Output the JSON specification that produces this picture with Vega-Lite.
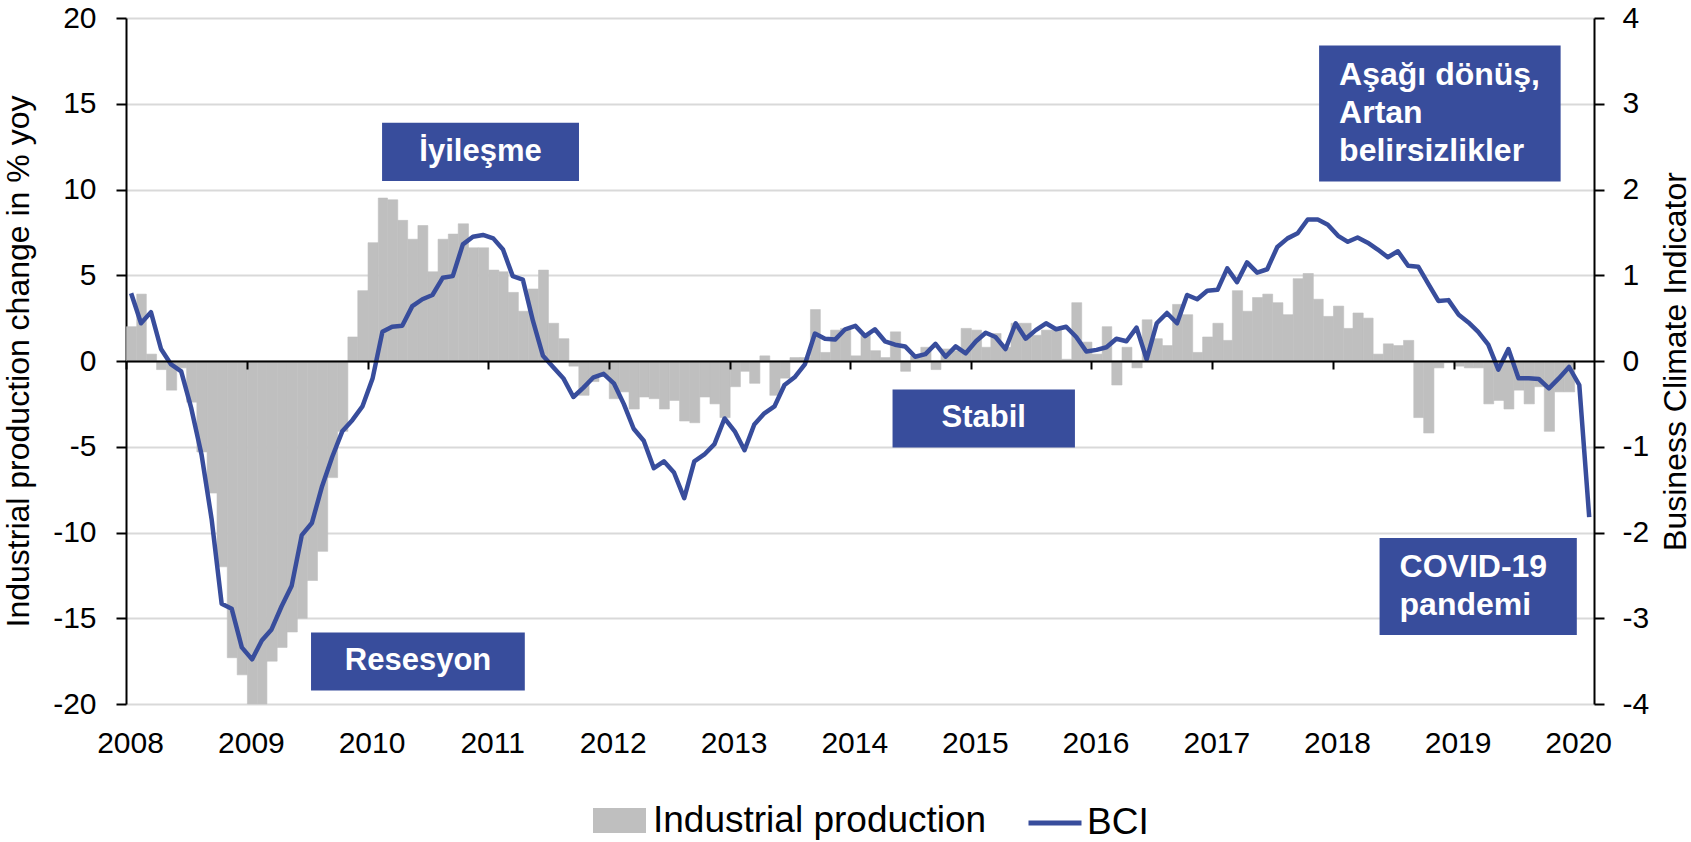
{
  "$schema": "https://vega.github.io/schema/vega-lite/v6.json",
  "width": 1468,
  "height": 686,
  "autosize": {"type": "none"},
  "padding": {"left": 126, "top": 18, "right": 97, "bottom": 138},
  "background": "white",
  "config": {
    "font": "Liberation Sans",
    "view": {"stroke": null},
    "bar": {"binSpacing": 0},
    "axis": {"labelFont": "Liberation Sans", "titleFont": "Liberation Sans", "labelColor": "black", "titleColor": "black"}
  },
  "data": {"values": [
    {"date": "2008-01", "ip": 2.0, "bci": 0.79}, {"date": "2008-02", "ip": 3.9, "bci": 0.44}, {"date": "2008-03", "ip": 0.4, "bci": 0.57}, {"date": "2008-04", "ip": -0.5, "bci": 0.14}, {"date": "2008-05", "ip": -1.7, "bci": -0.04}, {"date": "2008-06", "ip": -0.4, "bci": -0.12}, {"date": "2008-07", "ip": -2.4, "bci": -0.55}, {"date": "2008-08", "ip": -5.3, "bci": -1.09}, {"date": "2008-09", "ip": -7.7, "bci": -1.84}, {"date": "2008-10", "ip": -12.0, "bci": -2.83}, {"date": "2008-11", "ip": -17.3, "bci": -2.89}, {"date": "2008-12", "ip": -18.3, "bci": -3.34},
    {"date": "2009-01", "ip": -20.0, "bci": -3.48}, {"date": "2009-02", "ip": -20.0, "bci": -3.26}, {"date": "2009-03", "ip": -17.5, "bci": -3.13}, {"date": "2009-04", "ip": -16.7, "bci": -2.86}, {"date": "2009-05", "ip": -15.8, "bci": -2.62}, {"date": "2009-06", "ip": -15.0, "bci": -2.03}, {"date": "2009-07", "ip": -12.8, "bci": -1.89}, {"date": "2009-08", "ip": -11.1, "bci": -1.46}, {"date": "2009-09", "ip": -6.8, "bci": -1.12}, {"date": "2009-10", "ip": -4.1, "bci": -0.82}, {"date": "2009-11", "ip": 1.4, "bci": -0.69}, {"date": "2009-12", "ip": 4.1, "bci": -0.53},
    {"date": "2010-01", "ip": 6.9, "bci": -0.2}, {"date": "2010-02", "ip": 9.5, "bci": 0.34}, {"date": "2010-03", "ip": 9.4, "bci": 0.4}, {"date": "2010-04", "ip": 8.2, "bci": 0.41}, {"date": "2010-05", "ip": 7.1, "bci": 0.64}, {"date": "2010-06", "ip": 7.9, "bci": 0.72}, {"date": "2010-07", "ip": 5.2, "bci": 0.77}, {"date": "2010-08", "ip": 7.1, "bci": 0.97}, {"date": "2010-09", "ip": 7.4, "bci": 0.99}, {"date": "2010-10", "ip": 8.0, "bci": 1.36}, {"date": "2010-11", "ip": 6.6, "bci": 1.45}, {"date": "2010-12", "ip": 6.6, "bci": 1.47},
    {"date": "2011-01", "ip": 5.3, "bci": 1.43}, {"date": "2011-02", "ip": 5.2, "bci": 1.3}, {"date": "2011-03", "ip": 4.0, "bci": 0.99}, {"date": "2011-04", "ip": 2.9, "bci": 0.95}, {"date": "2011-05", "ip": 4.2, "bci": 0.47}, {"date": "2011-06", "ip": 5.3, "bci": 0.06}, {"date": "2011-07", "ip": 2.2, "bci": -0.07}, {"date": "2011-08", "ip": 1.3, "bci": -0.2}, {"date": "2011-09", "ip": -0.3, "bci": -0.42}, {"date": "2011-10", "ip": -2.0, "bci": -0.31}, {"date": "2011-11", "ip": -1.2, "bci": -0.19}, {"date": "2011-12", "ip": -0.9, "bci": -0.15},
    {"date": "2012-01", "ip": -2.2, "bci": -0.26}, {"date": "2012-02", "ip": -1.8, "bci": -0.5}, {"date": "2012-03", "ip": -2.8, "bci": -0.79}, {"date": "2012-04", "ip": -2.1, "bci": -0.93}, {"date": "2012-05", "ip": -2.2, "bci": -1.25}, {"date": "2012-06", "ip": -2.8, "bci": -1.17}, {"date": "2012-07", "ip": -2.3, "bci": -1.3}, {"date": "2012-08", "ip": -3.5, "bci": -1.6}, {"date": "2012-09", "ip": -3.6, "bci": -1.17}, {"date": "2012-10", "ip": -2.1, "bci": -1.09}, {"date": "2012-11", "ip": -2.5, "bci": -0.97}, {"date": "2012-12", "ip": -3.3, "bci": -0.67},
    {"date": "2013-01", "ip": -1.5, "bci": -0.82}, {"date": "2013-02", "ip": -0.6, "bci": -1.04}, {"date": "2013-03", "ip": -1.3, "bci": -0.74}, {"date": "2013-04", "ip": 0.3, "bci": -0.61}, {"date": "2013-05", "ip": -2.0, "bci": -0.53}, {"date": "2013-06", "ip": -1.0, "bci": -0.28}, {"date": "2013-07", "ip": 0.2, "bci": -0.19}, {"date": "2013-08", "ip": 0.2, "bci": -0.04}, {"date": "2013-09", "ip": 3.0, "bci": 0.32}, {"date": "2013-10", "ip": 0.5, "bci": 0.26}, {"date": "2013-11", "ip": 1.8, "bci": 0.25}, {"date": "2013-12", "ip": 1.9, "bci": 0.37},
    {"date": "2014-01", "ip": 0.3, "bci": 0.41}, {"date": "2014-02", "ip": 1.5, "bci": 0.29}, {"date": "2014-03", "ip": 0.6, "bci": 0.37}, {"date": "2014-04", "ip": 0.2, "bci": 0.23}, {"date": "2014-05", "ip": 1.7, "bci": 0.19}, {"date": "2014-06", "ip": -0.6, "bci": 0.17}, {"date": "2014-07", "ip": 0.3, "bci": 0.05}, {"date": "2014-08", "ip": 0.8, "bci": 0.08}, {"date": "2014-09", "ip": -0.5, "bci": 0.2}, {"date": "2014-10", "ip": 0.7, "bci": 0.05}, {"date": "2014-11", "ip": 0.6, "bci": 0.17}, {"date": "2014-12", "ip": 1.9, "bci": 0.09},
    {"date": "2015-01", "ip": 1.8, "bci": 0.23}, {"date": "2015-02", "ip": 0.8, "bci": 0.33}, {"date": "2015-03", "ip": 1.6, "bci": 0.28}, {"date": "2015-04", "ip": 0.8, "bci": 0.14}, {"date": "2015-05", "ip": 2.2, "bci": 0.44}, {"date": "2015-06", "ip": 2.2, "bci": 0.26}, {"date": "2015-07", "ip": 1.5, "bci": 0.36}, {"date": "2015-08", "ip": 1.8, "bci": 0.44}, {"date": "2015-09", "ip": 1.8, "bci": 0.37}, {"date": "2015-10", "ip": 0.1, "bci": 0.4}, {"date": "2015-11", "ip": 3.4, "bci": 0.28}, {"date": "2015-12", "ip": 1.1, "bci": 0.11},
    {"date": "2016-01", "ip": 0.4, "bci": 0.13}, {"date": "2016-02", "ip": 2.0, "bci": 0.16}, {"date": "2016-03", "ip": -1.4, "bci": 0.26}, {"date": "2016-04", "ip": 0.8, "bci": 0.23}, {"date": "2016-05", "ip": -0.4, "bci": 0.39}, {"date": "2016-06", "ip": 2.4, "bci": 0.02}, {"date": "2016-07", "ip": 1.3, "bci": 0.44}, {"date": "2016-08", "ip": 0.9, "bci": 0.56}, {"date": "2016-09", "ip": 3.3, "bci": 0.44}, {"date": "2016-10", "ip": 2.7, "bci": 0.77}, {"date": "2016-11", "ip": 0.5, "bci": 0.72}, {"date": "2016-12", "ip": 1.4, "bci": 0.82},
    {"date": "2017-01", "ip": 2.2, "bci": 0.83}, {"date": "2017-02", "ip": 1.2, "bci": 1.08}, {"date": "2017-03", "ip": 4.1, "bci": 0.92}, {"date": "2017-04", "ip": 2.9, "bci": 1.15}, {"date": "2017-05", "ip": 3.7, "bci": 1.03}, {"date": "2017-06", "ip": 3.9, "bci": 1.07}, {"date": "2017-07", "ip": 3.4, "bci": 1.33}, {"date": "2017-08", "ip": 2.7, "bci": 1.43}, {"date": "2017-09", "ip": 4.8, "bci": 1.49}, {"date": "2017-10", "ip": 5.1, "bci": 1.65}, {"date": "2017-11", "ip": 3.6, "bci": 1.65}, {"date": "2017-12", "ip": 2.6, "bci": 1.59},
    {"date": "2018-01", "ip": 3.2, "bci": 1.46}, {"date": "2018-02", "ip": 1.9, "bci": 1.39}, {"date": "2018-03", "ip": 2.8, "bci": 1.44}, {"date": "2018-04", "ip": 2.5, "bci": 1.38}, {"date": "2018-05", "ip": 0.4, "bci": 1.3}, {"date": "2018-06", "ip": 1.0, "bci": 1.21}, {"date": "2018-07", "ip": 0.9, "bci": 1.28}, {"date": "2018-08", "ip": 1.2, "bci": 1.11}, {"date": "2018-09", "ip": -3.3, "bci": 1.1}, {"date": "2018-10", "ip": -4.2, "bci": 0.9}, {"date": "2018-11", "ip": -0.4, "bci": 0.7}, {"date": "2018-12", "ip": -0.1, "bci": 0.71},
    {"date": "2019-01", "ip": -0.3, "bci": 0.54}, {"date": "2019-02", "ip": -0.4, "bci": 0.45}, {"date": "2019-03", "ip": -0.4, "bci": 0.34}, {"date": "2019-04", "ip": -2.5, "bci": 0.19}, {"date": "2019-05", "ip": -2.3, "bci": -0.1}, {"date": "2019-06", "ip": -2.8, "bci": 0.14}, {"date": "2019-07", "ip": -1.7, "bci": -0.2}, {"date": "2019-08", "ip": -2.5, "bci": -0.2}, {"date": "2019-09", "ip": -1.5, "bci": -0.21}, {"date": "2019-10", "ip": -4.1, "bci": -0.32}, {"date": "2019-11", "ip": -1.8, "bci": -0.2}, {"date": "2019-12", "ip": -1.8, "bci": -0.07},
    {"date": "2020-01", "ip": null, "bci": -0.28}, {"date": "2020-02", "ip": null, "bci": -1.82}
  ]},
  "layer": [
    {
      "mark": {"type": "bar", "binSpacing": 0, "stroke": "#bfbfbf", "strokeWidth": 0.6},
      "encoding": {
        "x": {"field": "date", "timeUnit": "utcyearmonth", "type": "temporal",
          "scale": {"type": "utc", "domain": [{"year": 2008, "month": 1, "date": 1, "utc": true}, {"year": 2020, "month": 3, "date": 1, "utc": true}]},
          "axis": {"orient": "bottom", "domain": false, "ticks": false, "grid": false, "labelFontSize": 30, "labelPadding": 24, "labelOffset": 4, "labelFlush": false, "labelOverlap": false, "labelExpr": "utcFormat(datum.value, '%Y')", "tickCount": {"interval": "year", "step": 1}, "title": null}},
        "y": {"field": "ip", "type": "quantitative", "scale": {"domain": [-20, 20], "nice": false},
          "axis": {"orient": "left", "values": [-20, -15, -10, -5, 0, 5, 10, 15, 20], "grid": true, "gridColor": "#d9d9d9", "gridWidth": 2, "domainColor": "black", "domainWidth": 2, "tickColor": "black", "tickWidth": 2, "tickSize": 10, "labelFontSize": 30, "labelPadding": 20, "labelExpr": "'' + datum.value", "title": "Industrial production change in % yoy", "titleFontSize": 32, "titleFontWeight": "normal", "titleAngle": 270, "titleX": -98, "titleBaseline": "alphabetic", "zindex": 0}},
        "fill": {"datum": "Industrial production", "type": "nominal",
          "scale": {"domain": ["Industrial production"], "range": ["#bfbfbf"]},
          "legend": {"orient": "none", "legendX": 467, "legendY": 776, "title": null, "labelFontSize": 37, "labelFont": "Liberation Sans", "labelColor": "black", "labelLimit": 0, "symbolSize": 2809, "symbolType": "M-1,-0.47H1V0.47H-1Z", "symbolStrokeWidth": 0, "labelOffset": 7, "padding": 0}}
      }
    },
    {
      "mark": {"type": "line", "strokeWidth": 4.5, "strokeJoin": "round"},
      "encoding": {
        "x": {"field": "date", "timeUnit": "utcyearmonth", "type": "temporal", "bandPosition": 0.5,
          "axis": {"orient": "bottom", "offset": -343, "labels": false, "grid": false, "domain": true, "domainColor": "black", "domainWidth": 2, "ticks": true, "tickColor": "black", "tickWidth": 2, "tickSize": 8, "title": null, "tickCount": {"interval": "year", "step": 1}, "zindex": 1}},
        "y": {"field": "bci", "type": "quantitative", "scale": {"domain": [-4, 4], "nice": false},
          "axis": {"orient": "right", "values": [-4, -3, -2, -1, 0, 1, 2, 3, 4], "grid": false, "domainColor": "black", "domainWidth": 2, "tickColor": "black", "tickWidth": 2, "tickSize": 10, "labelFontSize": 30, "labelPadding": 18, "labelExpr": "'' + datum.value", "title": "Business Climate Indicator", "titleFontSize": 32, "titleFontWeight": "normal", "titleAngle": 270, "titleX": 91, "titleBaseline": "alphabetic", "zindex": 1}},
        "stroke": {"datum": "BCI", "type": "nominal",
          "scale": {"domain": ["BCI"], "range": ["#384d9c"]},
          "legend": {"orient": "none", "legendX": 900, "legendY": 776, "title": null, "labelFontSize": 37, "labelFont": "Liberation Sans", "labelColor": "black", "labelLimit": 0, "symbolSize": 2809, "symbolType": "stroke", "symbolStrokeWidth": 5, "labelOffset": 3, "padding": 0}}
      }
    },
    {
      "data": {"values": [{}]},
      "mark": {"type": "rect", "color": "#384d9c"},
      "encoding": {
        "x": {"datum": {"year": 2010, "month": 2, "date": 14, "utc": true}, "type": "temporal", "axis": null},
        "x2": {"datum": {"year": 2011, "month": 10, "date": 3, "utc": true}},
        "y": {"datum": 13.89, "type": "quantitative", "scale": {"domain": [-20, 20], "nice": false}, "axis": null},
        "y2": {"datum": 10.49}
      }
    },
    {
      "data": {"values": [{}]},
      "mark": {"type": "text", "text": "İyileşme", "color": "white", "font": "Liberation Sans", "fontWeight": "bold", "fontSize": 31, "align": "center", "baseline": "middle"},
      "encoding": {
        "x": {"datum": {"year": 2010, "month": 12, "date": 9, "utc": true}, "type": "temporal", "axis": null},
        "y": {"datum": 12.19, "type": "quantitative", "scale": {"domain": [-20, 20], "nice": false}, "axis": null}
      }
    },
    {
      "data": {"values": [{}]},
      "mark": {"type": "rect", "color": "#384d9c"},
      "encoding": {
        "x": {"datum": {"year": 2009, "month": 7, "date": 14, "utc": true}, "type": "temporal", "axis": null},
        "x2": {"datum": {"year": 2011, "month": 4, "date": 22, "utc": true}},
        "y": {"datum": -15.83, "type": "quantitative", "scale": {"domain": [-20, 20], "nice": false}, "axis": null},
        "y2": {"datum": -19.22}
      }
    },
    {
      "data": {"values": [{}]},
      "mark": {"type": "text", "text": "Resesyon", "color": "white", "font": "Liberation Sans", "fontWeight": "bold", "fontSize": 31, "align": "center", "baseline": "middle"},
      "encoding": {
        "x": {"datum": {"year": 2010, "month": 6, "date": 3, "utc": true}, "type": "temporal", "axis": null},
        "y": {"datum": -17.52, "type": "quantitative", "scale": {"domain": [-20, 20], "nice": false}, "axis": null}
      }
    },
    {
      "data": {"values": [{}]},
      "mark": {"type": "rect", "color": "#384d9c"},
      "encoding": {
        "x": {"datum": {"year": 2014, "month": 5, "date": 9, "utc": true}, "type": "temporal", "axis": null},
        "x2": {"datum": {"year": 2015, "month": 11, "date": 12, "utc": true}},
        "y": {"datum": -1.66, "type": "quantitative", "scale": {"domain": [-20, 20], "nice": false}, "axis": null},
        "y2": {"datum": -5.04}
      }
    },
    {
      "data": {"values": [{}]},
      "mark": {"type": "text", "text": "Stabil", "color": "white", "font": "Liberation Sans", "fontWeight": "bold", "fontSize": 31, "align": "center", "baseline": "middle"},
      "encoding": {
        "x": {"datum": {"year": 2015, "month": 2, "date": 9, "utc": true}, "type": "temporal", "axis": null},
        "y": {"datum": -3.35, "type": "quantitative", "scale": {"domain": [-20, 20], "nice": false}, "axis": null}
      }
    },
    {
      "data": {"values": [{}]},
      "mark": {"type": "rect", "color": "#384d9c"},
      "encoding": {
        "x": {"datum": {"year": 2017, "month": 11, "date": 20, "utc": true}, "type": "temporal", "axis": null},
        "x2": {"datum": {"year": 2019, "month": 11, "date": 21, "utc": true}},
        "y": {"datum": 18.4, "type": "quantitative", "scale": {"domain": [-20, 20], "nice": false}, "axis": null},
        "y2": {"datum": 10.47}
      }
    },
    {
      "data": {"values": [{}]},
      "mark": {"type": "text", "text": ["Aşağı dönüş,", "Artan", "belirsizlikler"], "lineHeight": 38, "dx": 20, "color": "white", "font": "Liberation Sans", "fontWeight": "bold", "fontSize": 32, "align": "left", "baseline": "middle"},
      "encoding": {
        "x": {"datum": {"year": 2017, "month": 11, "date": 20, "utc": true}, "type": "temporal", "axis": null},
        "y": {"datum": 16.65, "type": "quantitative", "scale": {"domain": [-20, 20], "nice": false}, "axis": null}
      }
    },
    {
      "data": {"values": [{}]},
      "mark": {"type": "rect", "color": "#384d9c"},
      "encoding": {
        "x": {"datum": {"year": 2018, "month": 5, "date": 22, "utc": true}, "type": "temporal", "axis": null},
        "x2": {"datum": {"year": 2020, "month": 1, "date": 9, "utc": true}},
        "y": {"datum": -10.32, "type": "quantitative", "scale": {"domain": [-20, 20], "nice": false}, "axis": null},
        "y2": {"datum": -15.98}
      }
    },
    {
      "data": {"values": [{}]},
      "mark": {"type": "text", "text": ["COVID-19", "pandemi"], "lineHeight": 38, "dx": 20, "color": "white", "font": "Liberation Sans", "fontWeight": "bold", "fontSize": 32, "align": "left", "baseline": "middle"},
      "encoding": {
        "x": {"datum": {"year": 2018, "month": 5, "date": 22, "utc": true}, "type": "temporal", "axis": null},
        "y": {"datum": -12.04, "type": "quantitative", "scale": {"domain": [-20, 20], "nice": false}, "axis": null}
      }
    }
  ],
  "resolve": {"scale": {"y": "independent"}, "axis": {"x": "independent"}}
}
